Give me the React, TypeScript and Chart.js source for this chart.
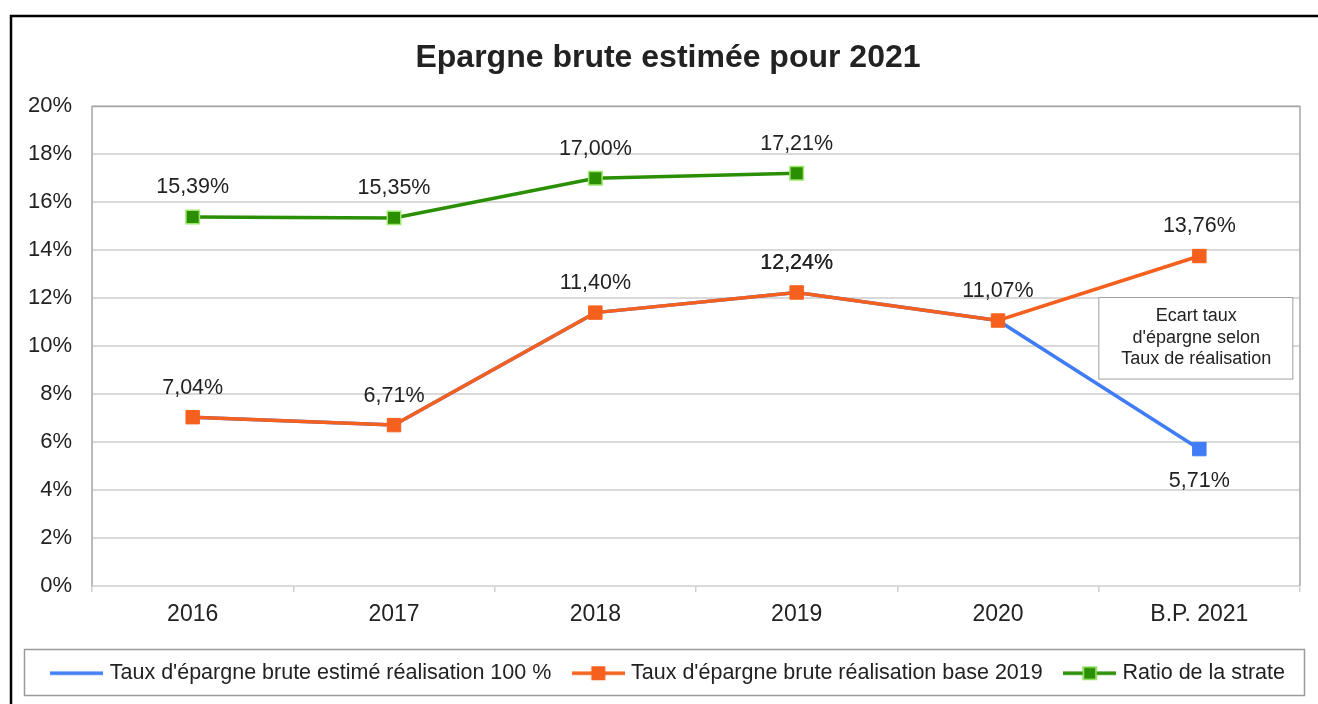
import React, { useEffect, useRef } from "react";
import { Chart, registerables } from "chart.js";

Chart.register(...registerables);

const categories = ["2016", "2017", "2018", "2019", "2020", "B.P. 2021"];
const tauxEstime100 = [7.04, 6.71, 11.4, 12.24, 11.07, 5.71];
const tauxBase2019 = [7.04, 6.71, 11.4, 12.24, 11.07, 13.76];
const ratioStrate = [15.39, 15.35, 17.0, 17.21, null, null];
const seriesNames = [
  "Taux d'épargne brute estimé réalisation 100 %",
  "Taux d'épargne brute réalisation base 2019",
  "Ratio de la strate",
];
const titleText = "Epargne brute estimée pour 2021";
const noteLines = ["Ecart taux", "d'épargne selon", "Taux de réalisation"];
const yTicks = [0, 2, 4, 6, 8, 10, 12, 14, 16, 18, 20];

const FONT = "'Liberation Sans', Arial, Helvetica, sans-serif";
const TXT = "#222222";
const BLUE = "#3f7cf6";
const ORANGE = "#f6601e";
const GREEN = "#2b8f04";
const GREEN_BORDER = "#9be86a";

const fmt = (v: number) => v.toFixed(2).replace(".", ",") + "%";

function makeIcon(color: string, marker: boolean, markerBorder?: string) {
  const c = document.createElement("canvas");
  c.width = 53;
  c.height = 16;
  const ctx = c.getContext("2d")!;
  ctx.strokeStyle = color;
  ctx.lineWidth = 3.5;
  ctx.beginPath();
  ctx.moveTo(0, 8);
  ctx.lineTo(53, 8);
  ctx.stroke();
  if (marker) {
    ctx.fillStyle = color;
    ctx.fillRect(19.5, 1, 14, 14);
    if (markerBorder) {
      ctx.strokeStyle = markerBorder;
      ctx.lineWidth = 1.5;
      ctx.strokeRect(20.25, 1.75, 12.5, 12.5);
    }
  }
  return c;
}

// label placement per dataset: which points get a value label and where
const labelPlan = [
  { show: [false, false, false, true, false, true], pos: ["above", "above", "above", "above", "above", "below"] },
  { show: [true, true, true, true, true, true], pos: ["above", "above", "above", "above", "above", "above"] },
  { show: [true, true, true, true, false, false], pos: ["above", "above", "above", "above", "above", "above"] },
];

const decorPlugin = {
  id: "decor",
  afterLayout(chart: any) {
    // Excel centres title and legend on the full frame, slightly right of the plot
    const tb = chart.titleBlock;
    if (tb) {
      tb.left += 14;
      tb.right += 14;
    }
    const lg = chart.legend;
    if (lg) {
      lg.left += 16;
      lg.right += 16;
    }
  },
  beforeDraw(chart: any) {
    const { ctx } = chart;
    ctx.save();
    ctx.fillStyle = "#ffffff";
    ctx.fillRect(0, 0, chart.width, chart.height);
    ctx.restore();
  },
  beforeDatasetsDraw(chart: any) {
    const { ctx, chartArea } = chart;
    ctx.save();
    ctx.strokeStyle = "#a6a6a6";
    ctx.lineWidth = 1.5;
    ctx.beginPath();
    ctx.moveTo(chartArea.left, chartArea.bottom);
    ctx.lineTo(chartArea.left, chartArea.top);
    ctx.lineTo(chartArea.right, chartArea.top);
    ctx.lineTo(chartArea.right, chartArea.bottom);
    ctx.stroke();
    ctx.restore();
  },
  afterDatasetsDraw(chart: any) {
    const { ctx } = chart;
    ctx.save();
    ctx.font = `21.5px ${FONT}`;
    ctx.fillStyle = TXT;
    ctx.textAlign = "center";
    ctx.textBaseline = "middle";
    chart.data.datasets.forEach((ds: any, di: number) => {
      const meta = chart.getDatasetMeta(di);
      const plan = labelPlan[di];
      meta.data.forEach((pt: any, i: number) => {
        const v = ds.data[i];
        if (v == null || !plan.show[i]) return;
        const dy = plan.pos[i] === "below" ? 32 : -29.5;
        ctx.fillText(fmt(v), pt.x, pt.y + dy);
      });
    });

    // note box
    const xs = chart.scales.x;
    const ys = chart.scales.y;
    const cx = xs.getPixelForValue(5) - 4;
    const left = cx - 97;
    const right = cx + 97;
    const top = ys.getPixelForValue(12.05);
    const bottom = ys.getPixelForValue(8.65);
    ctx.fillStyle = "#ffffff";
    ctx.fillRect(left, top, right - left, bottom - top);
    ctx.strokeStyle = "#a0a0a0";
    ctx.lineWidth = 1;
    ctx.strokeRect(left + 0.5, top + 0.5, right - left, bottom - top);
    ctx.fillStyle = TXT;
    ctx.font = `18px ${FONT}`;
    const mid = (top + bottom) / 2;
    noteLines.forEach((t, i) => {
      ctx.fillText(t, cx + 1, mid + (i - 1) * 21.5);
    });
    ctx.restore();
  },
  afterDraw(chart: any) {
    const { ctx } = chart;
    const lg = chart.legend;
    ctx.save();
    // legend frame
    ctx.strokeStyle = "#9a9a9a";
    ctx.lineWidth = 1.5;
    ctx.strokeRect(24.5, lg.top + 12, 1280, 46);
    // outer frame
    ctx.strokeStyle = "#000000";
    ctx.lineWidth = 2.5;
    ctx.strokeRect(11, 16, 1400, 800);
    ctx.restore();
  },
};

export default function App() {
  const ref = useRef<HTMLCanvasElement>(null);

  useEffect(() => {
    const canvas = ref.current!;
    const icons = [
      makeIcon(BLUE, false),
      makeIcon(ORANGE, true),
      makeIcon(GREEN, true, GREEN_BORDER),
    ];
    const chart = new Chart(canvas, {
      type: "line",
      data: {
        labels: categories,
        datasets: [
          {
            label: seriesNames[0],
            data: tauxEstime100,
            borderColor: BLUE,
            backgroundColor: BLUE,
            borderWidth: 3.5,
            pointStyle: "rect",
            pointRadius: [0, 0, 0, 0, 0, 9.5],
            pointBorderWidth: 1,
            pointBackgroundColor: BLUE,
            pointBorderColor: BLUE,
            order: 3,
            tension: 0,
          },
          {
            label: seriesNames[1],
            data: tauxBase2019,
            borderColor: ORANGE,
            backgroundColor: ORANGE,
            borderWidth: 3.5,
            pointStyle: "rect",
            pointRadius: 9.5,
            pointBorderWidth: 1,
            pointBackgroundColor: ORANGE,
            pointBorderColor: ORANGE,
            order: 1,
            tension: 0,
          },
          {
            label: seriesNames[2],
            data: ratioStrate,
            borderColor: GREEN,
            backgroundColor: GREEN,
            borderWidth: 3.5,
            pointStyle: "rect",
            pointRadius: 9.5,
            pointBorderWidth: 1.5,
            pointBackgroundColor: GREEN,
            pointBorderColor: GREEN_BORDER,
            order: 2,
            tension: 0,
            spanGaps: false,
          },
        ],
      },
      options: {
        responsive: false,
        animation: false,
        devicePixelRatio: 1,
        layout: { padding: { top: 16, left: 8, right: 18, bottom: 10 } },
        scales: {
          x: {
            offset: true,
            grid: {
              offset: true,
              drawOnChartArea: false,
              drawTicks: true,
              tickLength: 6,
              color: "#cfcfcf",
              lineWidth: 1.5,
            },
            border: { display: false },
            ticks: {
              color: TXT,
              font: { family: FONT, size: 23, lineHeight: 1.37 },
              padding: 7,
              maxRotation: 0,
            },
          },
          y: {
            min: 0,
            max: 20,
            afterBuildTicks: (axis: any) => {
              axis.ticks = yTicks.map((v) => ({ value: v }));
            },
            grid: {
              color: "#d9d9d9",
              lineWidth: 2,
              drawTicks: false,
            },
            border: { display: false },
            ticks: {
              color: TXT,
              font: { family: FONT, size: 22 },
              padding: 20,
              callback: (v: any) => `${v}%`,
            },
          },
        },
        plugins: {
          title: {
            display: true,
            text: titleText,
            color: TXT,
            font: { family: FONT, size: 32, weight: "bold" },
            padding: { top: 23, bottom: 29 },
          },
          legend: {
            position: "bottom",
            labels: {
              usePointStyle: true,
              pointStyleWidth: 44,
              padding: 25,
              color: TXT,
              font: { family: FONT, size: 21.5 },
              generateLabels: () =>
                seriesNames.map((name, i) => ({
                  text: name,
                  pointStyle: icons[i],
                  fillStyle: "transparent",
                  strokeStyle: "transparent",
                  lineWidth: 0,
                  hidden: false,
                  datasetIndex: i,
                  fontColor: TXT,
                })) as any,
            },
          },
          tooltip: { enabled: false },
        },
      },
      plugins: [decorPlugin],
    } as any);
    return () => chart.destroy();
  }, []);

  return (
    <div style={{ position: "absolute", left: 0, top: 0, width: 1318, height: 704, background: "#fff" }}>
      <canvas ref={ref} width={1318} height={704} style={{ width: 1318, height: 704, display: "block" }} />
    </div>
  );
}
